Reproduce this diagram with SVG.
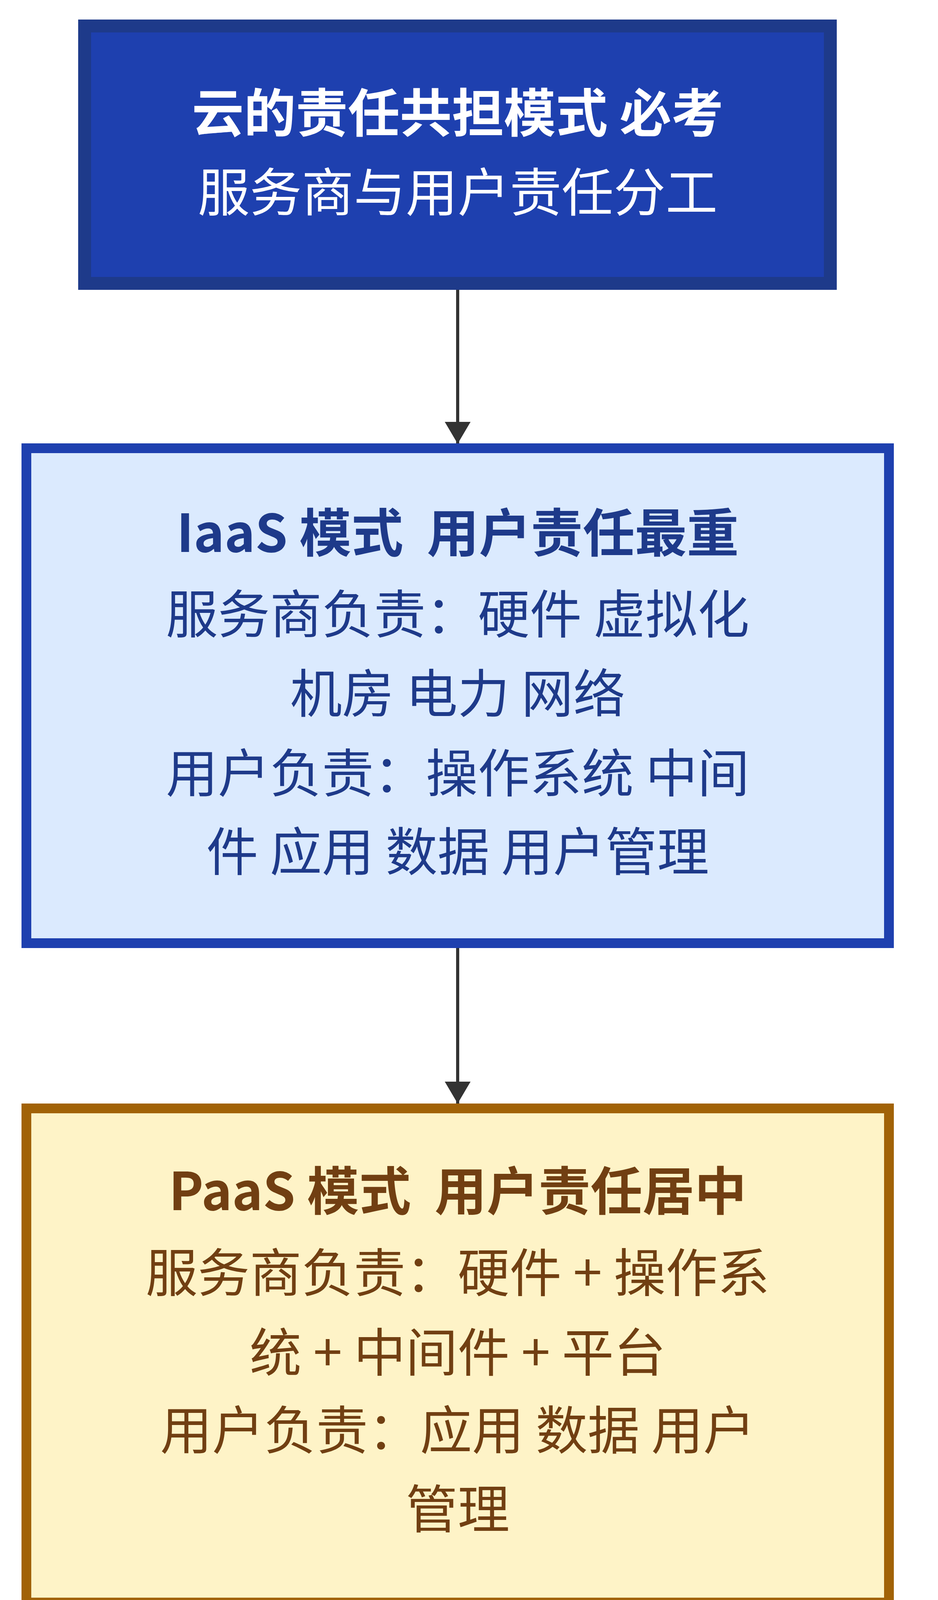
<svg xmlns="http://www.w3.org/2000/svg" width="2400" height="7982" viewBox="0 0 2400 7982">
<defs>
<style>
text{font-family:"Noto Sans CJK SC","Noto Sans",sans-serif;font-size:133px;text-anchor:middle}
.b{font-weight:bold}
.w{fill:#ffffff}
.blue{fill:#1e3a8a}
.brown{fill:#713f12}
.pink{fill:#831843}
.edge{stroke:#333333;stroke-width:8;fill:none}
</style>
<marker id="ah" viewBox="0 0 56 66" refX="56" refY="33" markerWidth="56" markerHeight="66" markerUnits="userSpaceOnUse" orient="auto">
<path d="M0,0 L56,33 L0,66 z" fill="#333333"/>
</marker>
</defs>
<rect width="2400" height="7982" fill="#ffffff"/>
<g id="connectors">
<line class="edge" x1="1171" y1="742" x2="1171" y2="1136" marker-end="url(#ah)"/>
<line class="edge" x1="1171" y1="2427" x2="1171" y2="2825" marker-end="url(#ah)"/>
<line class="edge" x1="1171" y1="4115" x2="1171" y2="4513" marker-end="url(#ah)"/>
<line class="edge" x1="1171" y1="5804" x2="1171" y2="6198" marker-end="url(#ah)"/>
</g>
<g id="title">
<rect x="216.5" y="66.5" width="1908" height="659" fill="#1e40af" stroke="#1e3a8a" stroke-width="33"/>
<text class="w b" x="1171" y="338">云的责任共担模式 必考</text>
<text class="w" x="1171" y="541">服务商与用户责任分工</text>
</g>
<g id="iaas">
<rect x="67.5" y="1147.5" width="2207" height="1267" fill="#dbeafe" stroke="#1e40af" stroke-width="25"/>
<text class="blue b" x="1171" y="1413" xml:space="preserve">IaaS 模式  用户责任最重</text>
<text class="blue" x="1171" y="1621">服务商负责：硬件 虚拟化</text>
<text class="blue" x="1171" y="1824">机房 电力 网络</text>
<text class="blue" x="1171" y="2028">用户负责：操作系统 中间</text>
<text class="blue" x="1171" y="2229">件 应用 数据 用户管理</text>
</g>
<g id="paas">
<rect x="67.5" y="2837.5" width="2207" height="1265" fill="#fef3c7" stroke="#a16207" stroke-width="25"/>
<text class="brown b" x="1171" y="3098" xml:space="preserve">PaaS 模式  用户责任居中</text>
<text class="brown" x="1171" y="3307">服务商负责：硬件 + 操作系</text>
<text class="brown" x="1171" y="3511">统 + 中间件 + 平台</text>
<text class="brown" x="1171" y="3710">用户负责：应用 数据 用户</text>
<text class="brown" x="1171" y="3912">管理</text>
</g>
<g id="saas">
<rect x="67.5" y="4525.5" width="2207" height="1266" fill="#fce7f3" stroke="#be185d" stroke-width="25"/>
<text class="pink b" x="1171" y="4788" xml:space="preserve">SaaS 模式  用户责任最轻</text>
<text class="pink" x="1171" y="4999">服务商负责：硬件 + 平台 +</text>
<text class="pink" x="1171" y="5201">应用</text>
<text class="pink" x="1171" y="5403">用户负责：数据 用户管理</text>
<text class="pink" x="1171" y="5607">（仅这两项）</text>
</g>
<g id="tip">
<rect x="67.5" y="6214.5" width="2208" height="1468" fill="#15803d" stroke="#14532d" stroke-width="33"/>
<text class="w b" x="1171" y="6482">关键提醒</text>
<text class="w" x="1171" y="6684">云的安全是 共同责任</text>
<text class="w" x="1171" y="6886">不是 上云就安全了</text>
<text class="w" x="1171" y="7089">用户必须管好自己的应用和</text>
<text class="w" x="1171" y="7290">数据</text>
<text class="w" x="1171" y="7492">这是案例分析高频考点</text>
</g>
</svg>
